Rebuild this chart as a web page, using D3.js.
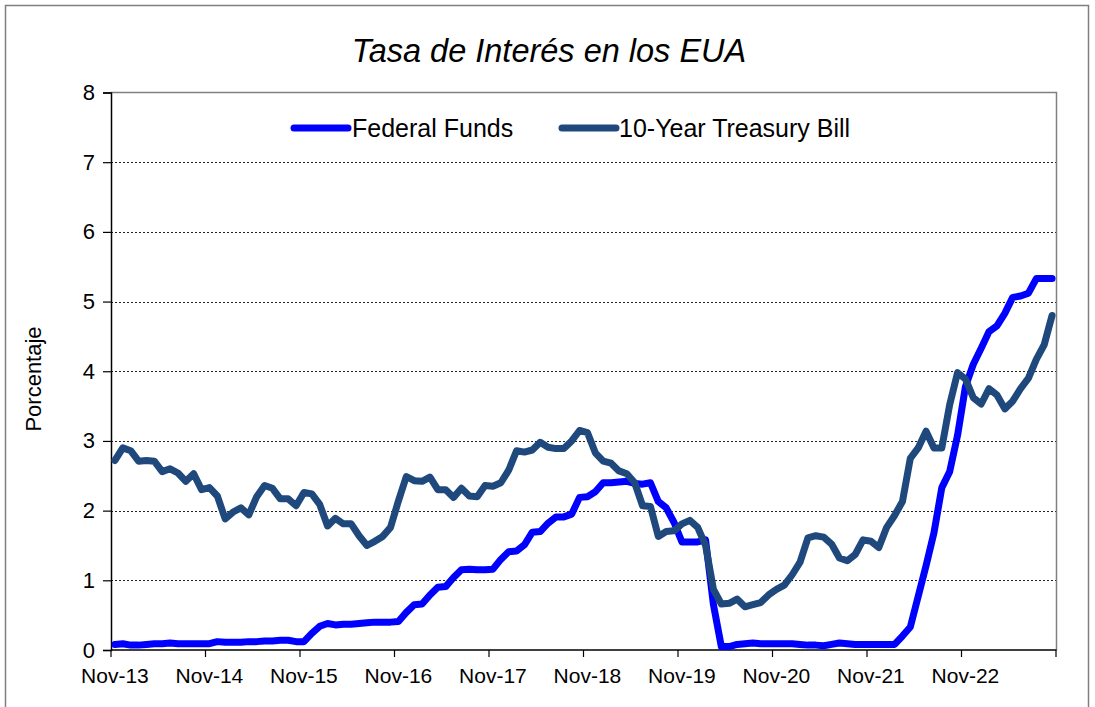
<!DOCTYPE html>
<html>
<head>
<meta charset="utf-8">
<script src="https://cdn.jsdelivr.net/npm/d3@7"></script>
<style>
  html, body { margin: 0; padding: 0; background: #fff; }
  svg { display: block; font-family: "Liberation Sans", Arial, sans-serif; }
</style>
</head>
<body>
<svg id="chart" width="1095" height="707"></svg>
<script>
// ---- Data (monthly, Nov-2013 .. Oct-2023) ----
const startYear = 2013, startMonth = 10; // November (0-based)
const monthNames = ["Jan","Feb","Mar","Apr","May","Jun","Jul","Aug","Sep","Oct","Nov","Dec"];

const federalFunds = [
  0.08, 0.09,
  0.07, 0.07, 0.08, 0.09, 0.09, 0.10, 0.09, 0.09, 0.09, 0.09, 0.09, 0.12,
  0.11, 0.11, 0.11, 0.12, 0.12, 0.13, 0.13, 0.14, 0.14, 0.12, 0.12, 0.24,
  0.34, 0.38, 0.36, 0.37, 0.37, 0.38, 0.39, 0.40, 0.40, 0.40, 0.41, 0.54,
  0.65, 0.66, 0.79, 0.90, 0.91, 1.04, 1.15, 1.16, 1.15, 1.15, 1.16, 1.30,
  1.41, 1.42, 1.51, 1.69, 1.70, 1.82, 1.91, 1.91, 1.95, 2.19, 2.20, 2.27,
  2.40, 2.40, 2.41, 2.42, 2.39, 2.38, 2.40, 2.13, 2.04, 1.83, 1.55, 1.55,
  1.55, 1.58, 0.65, 0.05, 0.05, 0.08, 0.09, 0.10, 0.09, 0.09, 0.09, 0.09,
  0.09, 0.08, 0.07, 0.07, 0.06, 0.08, 0.10, 0.09, 0.08, 0.08, 0.08, 0.08,
  0.08, 0.08, 0.20, 0.33, 0.77, 1.21, 1.68, 2.33, 2.56, 3.08, 3.78, 4.10,
  4.33, 4.57, 4.65, 4.83, 5.06, 5.08, 5.12, 5.33, 5.33, 5.33
];

const treasury10y = [
  2.72, 2.90,
  2.86, 2.71, 2.72, 2.71, 2.56, 2.60, 2.54, 2.42, 2.53, 2.30, 2.33, 2.21,
  1.88, 1.98, 2.04, 1.94, 2.20, 2.36, 2.32, 2.17, 2.17, 2.07, 2.26, 2.24,
  2.09, 1.78, 1.89, 1.81, 1.81, 1.64, 1.50, 1.56, 1.63, 1.76, 2.14, 2.49,
  2.43, 2.42, 2.48, 2.30, 2.30, 2.19, 2.32, 2.21, 2.20, 2.36, 2.35, 2.40,
  2.58, 2.86, 2.84, 2.87, 2.98, 2.91, 2.89, 2.89, 3.00, 3.15, 3.12, 2.83,
  2.71, 2.68, 2.57, 2.53, 2.40, 2.07, 2.06, 1.63, 1.70, 1.71, 1.81, 1.86,
  1.76, 1.50, 0.87, 0.66, 0.67, 0.73, 0.62, 0.65, 0.68, 0.79, 0.87, 0.93,
  1.08, 1.26, 1.61, 1.64, 1.62, 1.52, 1.32, 1.28, 1.37, 1.58, 1.56, 1.47,
  1.76, 1.93, 2.13, 2.75, 2.90, 3.14, 2.90, 2.90, 3.52, 3.98, 3.89, 3.62,
  3.53, 3.75, 3.66, 3.46, 3.57, 3.75, 3.90, 4.17, 4.38, 4.80
];

const categories = federalFunds.map((_, i) => {
  const m = (startMonth + i) % 12;
  const y = startYear + Math.floor((startMonth + i) / 12);
  return monthNames[m] + "-" + String(y).slice(2);
});

const yTicks = [0, 1, 2, 3, 4, 5, 6, 7, 8];
const seriesNames = ["Federal Funds", "10-Year Treasury Bill"];
const seriesColors = ["#0000ff", "#1f497d"];
const titleText = "Tasa de Interés en los EUA";
const yTitle = "Porcentaje";

// ---- Layout ----
const svg = d3.select("#chart");
const plot = { left: 111, right: 1056, top: 92.5, bottom: 650 };

const x = d3.scaleBand().domain(categories).range([plot.left, plot.right]).padding(0);
const y = d3.scaleLinear().domain([0, 8]).range([plot.bottom, plot.top]);
const cx = d => x(d) + x.bandwidth() / 2;

// outer chart border
svg.append("rect")
  .attr("x", 5.5).attr("y", 5.5).attr("width", 1083).attr("height", 730)
  .attr("fill", "#fff").attr("stroke", "#7f7f7f").attr("stroke-width", 1.5);

// Title
svg.append("text")
  .attr("x", 549).attr("y", 62)
  .attr("text-anchor", "middle")
  .attr("font-size", 32.5).attr("font-style", "italic")
  .attr("fill", "#000")
  .text(titleText);

// gridlines
svg.append("g").selectAll("line")
  .data(yTicks.filter(t => t > 0 && t < 8))
  .join("line")
  .attr("x1", plot.left).attr("x2", plot.right)
  .attr("y1", d => Math.round(y(d)) + 0.5).attr("y2", d => Math.round(y(d)) + 0.5)
  .attr("stroke", "#222").attr("stroke-width", 1).attr("stroke-dasharray", "2,2");

// plot area border (top / right)
svg.append("path")
  .attr("d", `M${plot.left},${plot.top}H${plot.right + 0.5}V${plot.bottom}`)
  .attr("fill", "none").attr("stroke", "#808080").attr("stroke-width", 1.5);

// Y axis
const yAxis = d3.axisLeft(y).tickValues(yTicks).tickSize(8).tickPadding(8).tickFormat(d3.format("d"));
const gy = svg.append("g").attr("transform", `translate(${plot.left},0)`).call(yAxis);
gy.select(".domain").attr("stroke", "#000").attr("stroke-width", 1.5);
gy.selectAll(".tick line").attr("stroke", "#000").attr("stroke-width", 1.2);
gy.selectAll(".tick text").attr("font-size", 22).attr("fill", "#000")
  .attr("font-family", "Liberation Sans, Arial, sans-serif");

// X axis: ticks at band boundaries every 12 categories, labels centered on category
const tickCats = categories.filter((_, i) => i % 12 === 0);
const gx = svg.append("g");
gx.append("line")
  .attr("x1", plot.left).attr("x2", plot.right + 0.5)
  .attr("y1", plot.bottom).attr("y2", plot.bottom)
  .attr("stroke", "#000").attr("stroke-width", 1.5);
const tickXs = tickCats.map(c => x(c)).concat([plot.right]);
gx.selectAll("line.tk").data(tickXs).join("line").attr("class", "tk")
  .attr("x1", d => d).attr("x2", d => d)
  .attr("y1", plot.bottom).attr("y2", plot.bottom + 7)
  .attr("stroke", "#000").attr("stroke-width", 1.2);
gx.selectAll("text").data(tickCats).join("text")
  .attr("x", d => cx(d)).attr("y", 683)
  .attr("text-anchor", "middle").attr("font-size", 21).attr("fill", "#000")
  .text(d => d);

// Y axis title
svg.append("text")
  .attr("transform", `translate(41,379) rotate(-90)`)
  .attr("text-anchor", "middle").attr("font-size", 22).attr("fill", "#000")
  .text(yTitle);

// Lines
const series = [federalFunds, treasury10y];
const line = d3.line().x((d, i) => cx(categories[i])).y(d => y(d));
svg.append("g").selectAll("path")
  .data(series)
  .join("path")
  .attr("d", d => line(d))
  .attr("fill", "none")
  .attr("stroke", (d, i) => seriesColors[i])
  .attr("stroke-width", 7)
  .attr("stroke-linejoin", "round")
  .attr("stroke-linecap", "round");

// Legend
const legendItems = [
  { x1: 294, x2: 348, tx: 352 },
  { x1: 562, x2: 616, tx: 619 }
];
const lg = svg.append("g");
legendItems.forEach((it, i) => {
  lg.append("line")
    .attr("x1", it.x1).attr("x2", it.x2).attr("y1", 128).attr("y2", 128)
    .attr("stroke", seriesColors[i]).attr("stroke-width", 7).attr("stroke-linecap", "round");
  lg.append("text")
    .attr("x", it.tx).attr("y", 137).attr("font-size", 25).attr("fill", "#000")
    .text(seriesNames[i]);
});
</script>
</body>
</html>
